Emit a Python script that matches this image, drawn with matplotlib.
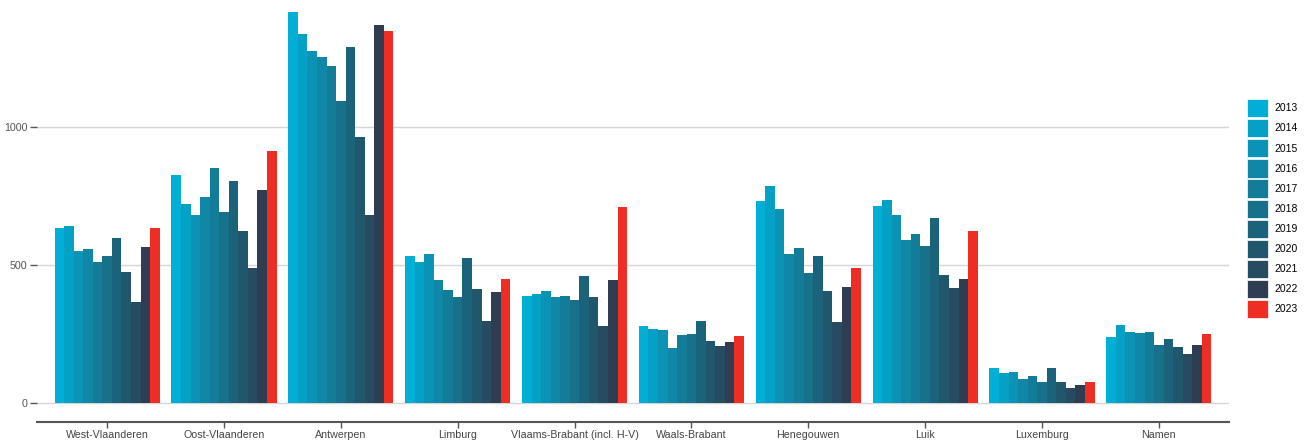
import numpy as np
import matplotlib
matplotlib.use("Agg")
import matplotlib.pyplot as plt
from matplotlib.patches import Patch

plt.rcParams['font.family'] = ['Liberation Sans', 'DejaVu Sans']

# provinces on the x axis
provinces = ["West-Vlaanderen", "Oost-Vlaanderen", "Antwerpen", "Limburg",
             "Vlaams-Brabant (incl. H-V)", "Waals-Brabant", "Henegouwen",
             "Luik", "Luxemburg", "Namen"]
years = ["2013", "2014", "2015", "2016", "2017", "2018",
         "2019", "2020", "2021", "2022", "2023"]

# one list per province, values 2013..2023
west_vl = [633, 642, 552, 558, 510, 533, 598, 476, 365, 566, 634]
oost_vl = [826, 721, 682, 746, 850, 692, 803, 623, 490, 773, 914]
antwerpen = [1415, 1338, 1277, 1252, 1222, 1094, 1289, 965, 680, 1369, 1347]
limburg = [531, 510, 541, 446, 408, 384, 524, 413, 296, 403, 450]
vl_brabant = [386, 394, 405, 385, 389, 372, 460, 384, 280, 446, 711]
w_brabant = [278, 269, 264, 200, 245, 250, 298, 223, 207, 220, 244]
henegouwen = [731, 785, 704, 539, 562, 470, 531, 405, 292, 421, 490]
luik = [714, 735, 682, 592, 611, 568, 670, 464, 418, 448, 624]
luxemburg = [126, 108, 113, 85, 99, 77, 126, 77, 56, 65, 75]
namen = [238, 281, 258, 252, 256, 211, 233, 203, 178, 211, 251]

colors = ["#00AED6", "#04A0C6", "#0B93B6", "#1087A6", "#137C98", "#17718A",
          "#1B637B", "#21576D", "#274B61", "#2E3D51", "#EE2D24"]

values = np.array([west_vl, oost_vl, antwerpen, limburg, vl_brabant,
                   w_brabant, henegouwen, luik, luxemburg, namen])

fig = plt.figure(figsize=(13.11, 4.40), dpi=100)
ax = fig.add_axes([37 / 1311, 18 / 440, (1229 - 37) / 1311, 422 / 440])

x = np.arange(1, len(provinces) + 1)
n = len(years)
w = 0.9 / n
for i in range(n):
    ax.bar(x - 0.45 + w * (i + 0.5), values[:, i], width=w,
           color=colors[i], linewidth=0, zorder=2)

ax.set_xlim(0.4, len(provinces) + 0.6)
ax.set_ylim(-69, 1460)

ax.set_yticks([0, 500, 1000])
ax.set_yticklabels(["0", "500", "1000"])
ax.yaxis.grid(True, color="#d6d6d6", linewidth=1.0, zorder=0)
ax.set_xticks(x)
ax.set_xticklabels(provinces)

for s in ["top", "right", "left"]:
    ax.spines[s].set_visible(False)
ax.spines["bottom"].set_color("#555555")
ax.spines["bottom"].set_linewidth(1.5)

ax.tick_params(axis="y", length=5, width=1, color="#555555",
               labelsize=7.7, labelcolor="#555555", pad=2)
ax.tick_params(axis="x", length=4, width=1, color="#555555",
               labelsize=7.7, labelcolor="#444444", pad=2)

handles = [Patch(facecolor=c, edgecolor="white", linewidth=0.5) for c in colors]
fig.legend(handles, years, loc="upper left",
           bbox_to_anchor=(1245 / 1311, 1 - 97 / 440),
           frameon=False, fontsize=7.5, handlelength=2.0, handleheight=2.3,
           labelspacing=0.19, handletextpad=0.6, borderpad=0.2,
           borderaxespad=0)

fig.savefig("out.png", dpi=100)
